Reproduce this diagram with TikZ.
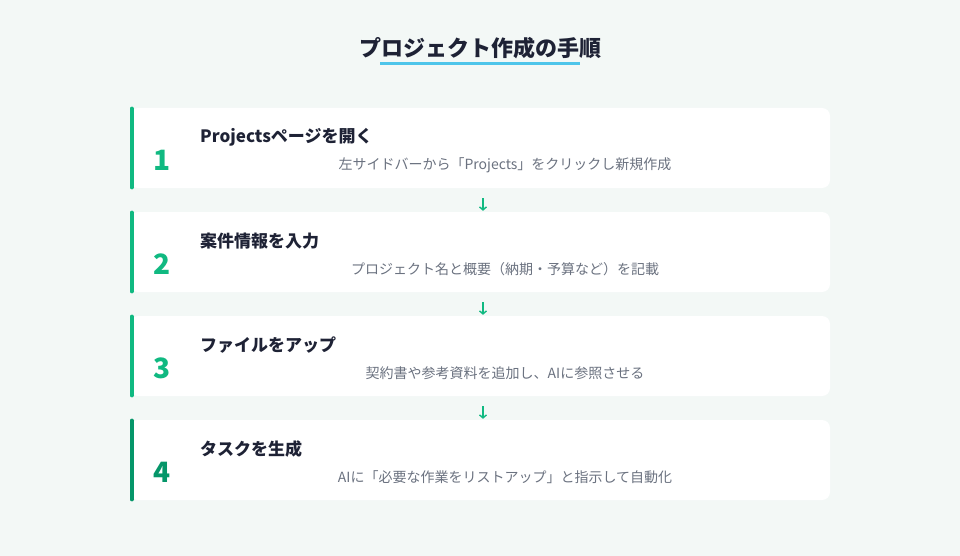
\documentclass[tikz,border=0pt]{standalone}
\usepackage{fontspec}
\setmainfont{Noto Sans CJK JP}
\usepackage{xcolor}
\usepackage{tikz}
\usetikzlibrary{calc,arrows.meta}
\definecolor{bg}{HTML}{F3F8F6}
\definecolor{card}{HTML}{FFFFFF}
\definecolor{ink}{HTML}{1E2235}
\definecolor{muted}{HTML}{6B7280}
\definecolor{mint}{HTML}{10B981}
\definecolor{deepmint}{HTML}{059669}
\definecolor{sky}{HTML}{4EC5EA}
\tikzset{
  stepcard/.style={fill=card, rounded corners=8pt, minimum width=700pt, minimum height=80pt, inner sep=0pt},
  bar/.style={line width=4.5pt, line cap=round},
  num/.style={font=\bfseries\fontsize{28}{28}\selectfont, inner sep=0pt},
  head/.style={text=ink, font=\bfseries\fontsize{17}{17}\selectfont, anchor=west, inner sep=0pt},
  desc/.style={text=muted, font=\fontsize{14}{14}\selectfont, inner sep=0pt},
  flow/.style={draw=mint, line width=1.4pt, -{Straight Barb[length=3pt,width=7pt]}, shorten <=10pt, shorten >=1pt},
}

\begin{document}
\begin{tikzpicture}[x=1pt,y=-1pt]
  \fill[bg] (0,0) rectangle (960,556);
  \useasboundingbox (0,0) rectangle (960,556);
  \node[text=ink, font=\bfseries\fontsize{22}{22}\selectfont, inner sep=0pt] (title) at (480,48) {プロジェクト作成の手順};
  \draw[sky, line width=3pt] ($(title.center)+(-100,16)$) -- ($(title.center)+(100,16)$);
  \foreach \i/\head/\desc/\col in {
    1/Projectsページを開く/左サイドバーから「Projects」をクリックし新規作成/mint,
    2/案件情報を入力/プロジェクト名と概要（納期・予算など）を記載/mint,
    3/ファイルをアップ/契約書や参考資料を追加し、AIに参照させる/mint,
    4/タスクを生成/AIに「必要な作業をリストアップ」と指示して自動化/deepmint}{
    \node[stepcard] (c\i) at (480,{148+104*(\i-1)}) {};
    \draw[bar, draw=\col] ([xshift=2pt,yshift=-1pt]c\i.north west) -- ([xshift=2pt,yshift=1pt]c\i.south west);
    \node[num, text=\col] (n\i) at (162,{160+104*(\i-1)}) {\i};
    \node[head] (h\i) at (200,{137+104*(\i-1)}) {\head};
    \node[desc] (d\i) at (505,{165+104*(\i-1)}) {\desc};
  }
  \foreach \i/\j in {1/2,2/3,3/4}{
    \draw[flow] ([xshift=3pt]c\i.south) -- ([xshift=3pt]c\j.north);
  }
\end{tikzpicture}
\end{document}
